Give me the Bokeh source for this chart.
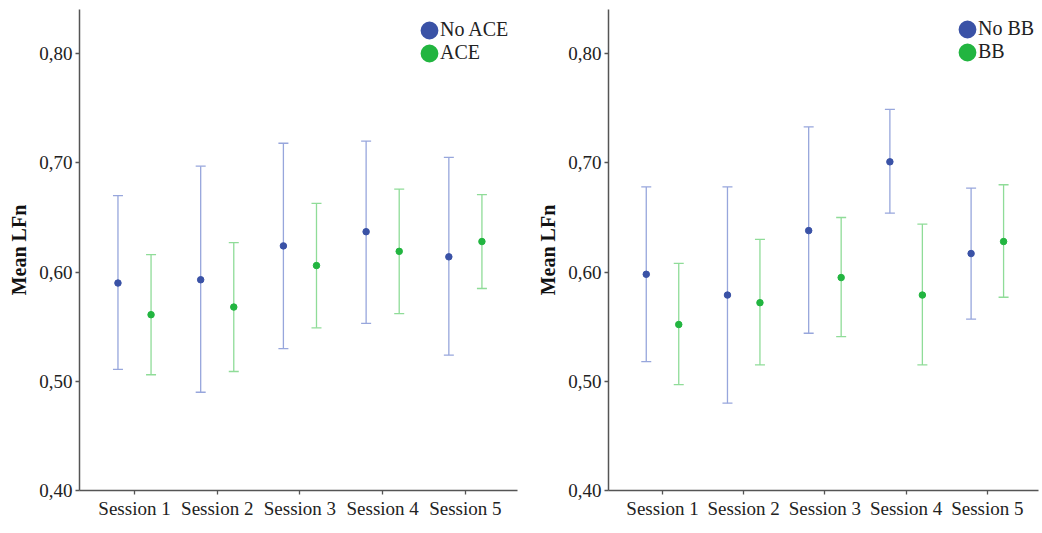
import numpy as np
from bokeh.plotting import figure
from bokeh.layouts import row
from bokeh.models import (ColumnDataSource, Whisker, TeeHead, Range1d, FixedTicker,
                          CustomJSTickFormatter, Legend, LegendItem)
from bokeh.embed import file_html
from bokeh.resources import INLINE

sessions = ["Session 1", "Session 2", "Session 3", "Session 4", "Session 5"]
y_ticks = [0.40, 0.50, 0.60, 0.70, 0.80]

# Left panel: ACE
noace_mean = [0.590, 0.593, 0.624, 0.637, 0.614]
noace_low = [0.511, 0.490, 0.530, 0.553, 0.524]
noace_high = [0.670, 0.697, 0.718, 0.720, 0.705]
ace_mean = [0.561, 0.568, 0.606, 0.619, 0.628]
ace_low = [0.506, 0.509, 0.549, 0.562, 0.585]
ace_high = [0.616, 0.627, 0.663, 0.676, 0.671]

# Right panel: BB
nobb_mean = [0.598, 0.579, 0.638, 0.701, 0.617]
nobb_low = [0.518, 0.480, 0.544, 0.654, 0.557]
nobb_high = [0.678, 0.678, 0.733, 0.749, 0.677]
bb_mean = [0.552, 0.572, 0.595, 0.579, 0.628]
bb_low = [0.497, 0.515, 0.541, 0.515, 0.577]
bb_high = [0.608, 0.630, 0.650, 0.644, 0.680]

BLUE = "#3a52a6"
BLUE_BAR = "#97a6dc"
GREEN = "#22b540"
GREEN_BAR = "#8fdc98"
FONT = "'Liberation Serif', 'Times New Roman', serif"
AXIS_COL = "#555555"
TEXT_COL = "#222222"
H = 525


def make_panel(labels, g1, g2, width, border_left, border_right, frame_bottom, leg_x, leg_y):
    p = figure(width=width, height=H, output_backend="svg", toolbar_location=None,
               x_range=Range1d(0.335, 5.63), y_range=Range1d(0.40, 0.8405),
               min_border_left=border_left, min_border_right=border_right,
               min_border_top=9, min_border_bottom=H - frame_bottom)
    p.outline_line_color = None
    p.grid.visible = False
    p.background_fill_color = "white"
    p.border_fill_color = "white"

    idx = np.arange(1, len(sessions) + 1)
    items = []
    for k, ((mean, low, high), off, dot, bar) in enumerate(((g1, -0.2, BLUE, BLUE_BAR),
                                                            (g2, 0.2, GREEN, GREEN_BAR))):
        src = ColumnDataSource(dict(x=idx + off, m=mean, lo=low, hi=high))
        w = Whisker(base="x", upper="hi", lower="lo", source=src, dimension="height",
                    line_color=bar, line_width=1.3,
                    upper_head=TeeHead(size=10, line_color=bar, line_width=1.3),
                    lower_head=TeeHead(size=10, line_color=bar, line_width=1.3))
        p.add_layout(w)
        p.scatter("x", "m", source=src, size=6.5, fill_color=dot, line_color=dot)
        # legend proxy (a single NaN row, never drawn in the plot) with a large round marker
        proxy = p.scatter(x=[np.nan], y=[np.nan], size=9, fill_color=dot,
                          line_color=dot, line_width=9)
        items.append(LegendItem(label=labels[k], renderers=[proxy]))

    legend = Legend(items=items, location=(leg_x, leg_y), glyph_width=22, glyph_height=22,
                    spacing=0, label_standoff=0, padding=0, margin=0,
                    label_height=22,
                    border_line_color=None, background_fill_alpha=0,
                    label_text_font=FONT, label_text_font_size="20px",
                    label_text_color=TEXT_COL)
    p.add_layout(legend)

    p.xaxis.ticker = FixedTicker(ticks=list(idx))
    p.xaxis.major_label_overrides = {int(i): s for i, s in zip(idx, sessions)}
    p.yaxis.ticker = FixedTicker(ticks=y_ticks)
    p.yaxis.formatter = CustomJSTickFormatter(code="return tick.toFixed(2).replace('.', ',');")
    p.yaxis.axis_label = "Mean LFn"
    p.yaxis.axis_label_text_font = FONT
    p.yaxis.axis_label_text_font_style = "bold"
    p.yaxis.axis_label_text_font_size = "20px"
    p.yaxis.axis_label_text_color = "#111111"
    p.yaxis.axis_label_standoff = 6
    for ax in (p.xaxis[0], p.yaxis[0]):
        ax.axis_line_color = AXIS_COL
        ax.axis_line_width = 1.5
        ax.major_tick_line_color = AXIS_COL
        ax.major_tick_line_width = 1.3
        ax.major_tick_out = 4
        ax.major_tick_in = 0
        ax.minor_tick_line_color = None
        ax.major_label_text_font = FONT
        ax.major_label_text_font_size = "19px"
        ax.major_label_text_color = TEXT_COL
        ax.major_label_standoff = 3
    return p


p1 = make_panel(["No ACE", "ACE"], (noace_mean, noace_low, noace_high),
                (ace_mean, ace_low, ace_high), 521, 79, 4, 490, 339, 426)
p2 = make_panel(["No BB", "BB"], (nobb_mean, nobb_low, nobb_high),
                (bb_mean, bb_low, bb_high), 519, 87, 2, 490, 348, 427)

layout = row(p1, p2)
open("out.html", "w").write(file_html(layout, INLINE))
